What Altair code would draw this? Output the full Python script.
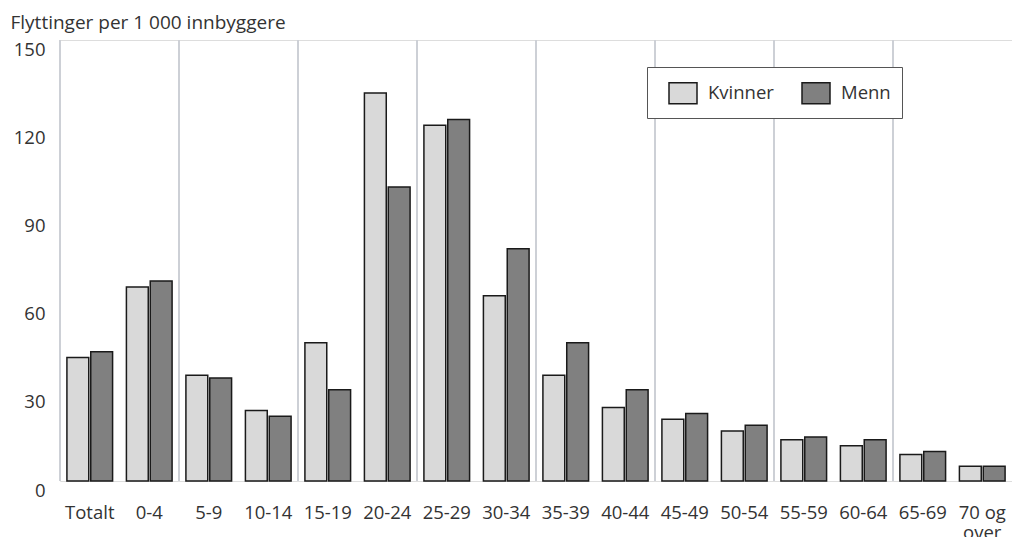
import altair as alt
import pandas as pd

categories = ["Totalt", "0-4", "5-9", "10-14", "15-19", "20-24", "25-29", "30-34",
              "35-39", "40-44", "45-49", "50-54", "55-59", "60-64", "65-69", "70 og over"]
kvinner = [42, 66, 36, 24, 47, 132, 121, 63, 36, 25, 21, 17, 14, 12, 9, 5]
menn = [44, 68, 35, 22, 31, 100, 123, 79, 47, 31, 23, 19, 15, 14, 10, 5]
series = ["Kvinner", "Menn"]
colors = ["#d9d9d9", "#808080"]
y_ticks = [0, 30, 60, 90, 120, 150]
grid_cats = categories[0::2]

rows = []
for c, k, m in zip(categories, kvinner, menn):
    rows.append({"cat": c, "kjonn": "Kvinner", "verdi": k})
    rows.append({"cat": c, "kjonn": "Menn", "verdi": m})
df = pd.DataFrame(rows)
grid_df = pd.DataFrame({"cat": grid_cats})

FONT = "Open Sans"
TXT = "#333333"
GRID = "#cdd0d6"
FS = 18.5

x_axis = alt.Axis(title=None, labelAngle=0, ticks=False, domain=False, grid=False,
                  bandPosition=0.5,
                  labelPadding=22, labelFontSize=FS, labelFont=FONT, labelColor=TXT,
                  labelLineHeight=20,
                  labelExpr="datum.label == '70 og over' ? ['70 og', 'over'] : datum.label")
x_scale = alt.Scale(paddingInner=0, paddingOuter=0)

vrules = alt.Chart(grid_df).mark_rule(color=GRID, strokeWidth=2).encode(
    x=alt.X("cat:N", sort=categories, bandPosition=0, axis=x_axis, scale=x_scale),
    y=alt.datum(0),
    y2=alt.datum(150),
)

bars = alt.Chart(df).mark_bar(stroke="#1a1a1a", strokeWidth=1.5).encode(
    x=alt.X("cat:N", sort=categories, scale=x_scale, axis=x_axis),
    xOffset=alt.XOffset("kjonn:N", sort=series,
                        scale=alt.Scale(paddingInner=0.083, paddingOuter=0.29)),
    y=alt.Y("verdi:Q", scale=alt.Scale(domain=[0, 150], nice=False),
            axis=alt.Axis(values=y_ticks, title="Flyttinger per 1 000 innbyggere",
                          titleAngle=0, titleAlign="left", titleBaseline="alphabetic",
                          titleX=-50, titleY=-12, titleFontWeight="normal", titleFontSize=19,
                          titleFont=FONT, titleColor=TXT,
                          labelFontSize=FS, labelFont=FONT, labelColor=TXT, labelPadding=15,
                          labelBaseline="top", ticks=False, domain=False,
                          gridColor=GRID, gridWidth=2)),
    color=alt.Color("kjonn:N", sort=series,
                    scale=alt.Scale(domain=series, range=colors),
                    legend=alt.Legend(title=None, orient="none", legendX=587, legendY=27,
                                      direction="horizontal", fillColor="white",
                                      strokeColor="#555555", padding=11, gridAlign="all",
                                      columnPadding=17, labelOffset=10, symbolOffset=10,
                                      symbolSize=784, symbolType="M-1,-0.75H1V0.75H-1Z",
                                      symbolStrokeColor="#1a1a1a", symbolStrokeWidth=1.5,
                                      labelFontSize=FS, labelFont=FONT, labelColor=TXT)),
)

chart = alt.layer(vrules, bars).properties(
    width=952, height=441,
    autosize=alt.AutoSizeParams(type="none"),
    padding={"left": 52, "top": 32, "right": 0, "bottom": 56},
).configure_view(stroke=None).configure(font=FONT)

chart.save("out.html", embed_options={"renderer": "svg", "actions": False})
